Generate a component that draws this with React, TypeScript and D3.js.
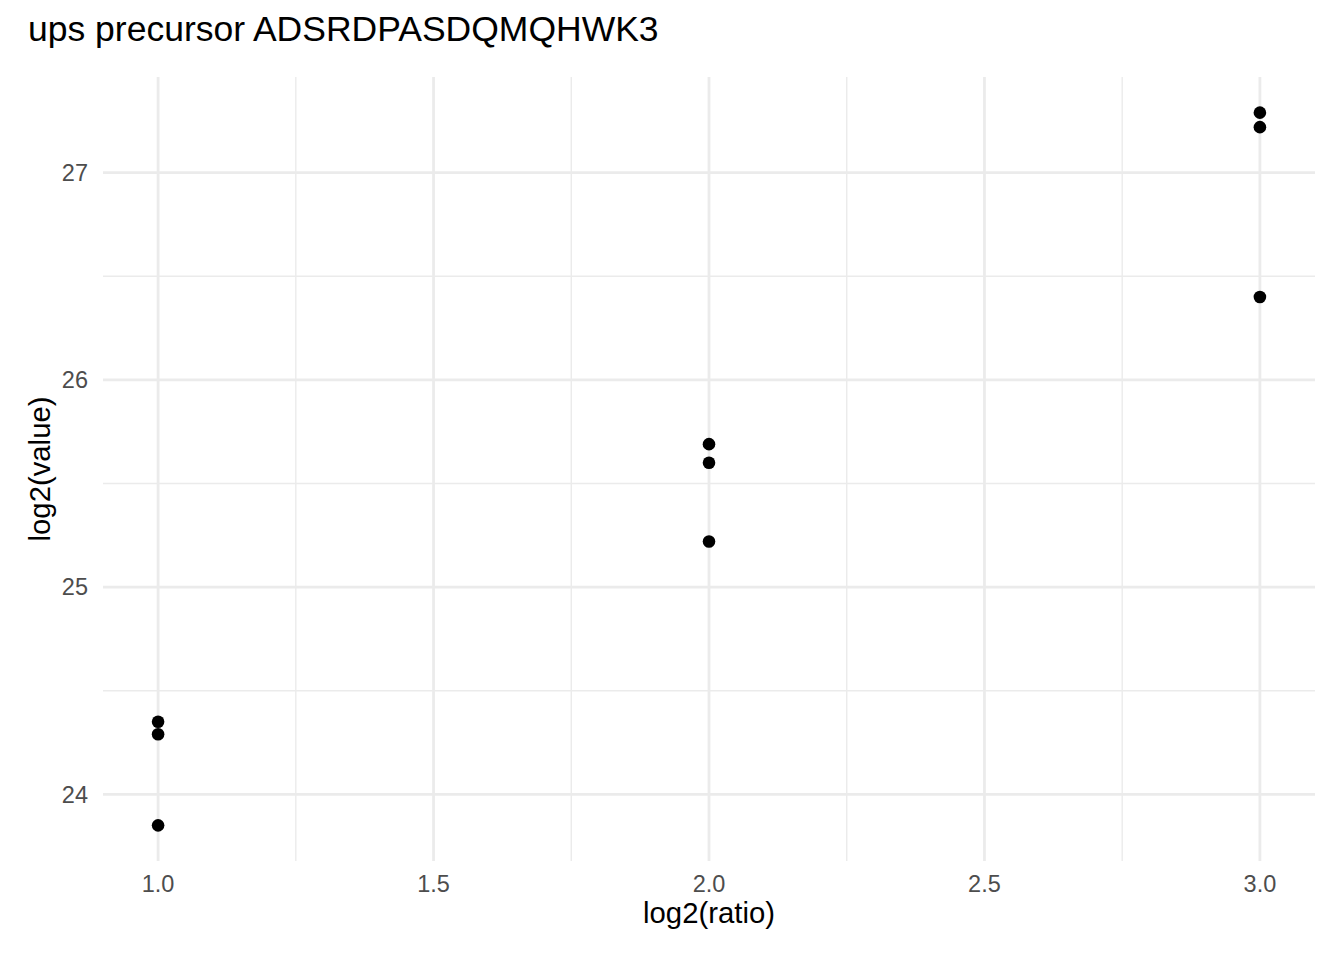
import * as d3 from "d3";

// log2(ratio) for each measurement
const ratios = [1, 1, 1, 2, 2, 2, 3, 3, 3];
// log2(value)
const values = [24.35, 24.29, 23.85, 25.69, 25.6, 25.22, 27.29, 27.22, 26.4];
const xTicks = [1.0, 1.5, 2.0, 2.5, 3.0];
const yTicks = [24, 25, 26, 27];
const title = "ups precursor ADSRDPASDQMQHWK3";

const width = 1344;
const height = 960;
const marginLeft = 103;
const marginRight = 29;
const marginTop = 77;
const marginBottom = 99;
const font = "'Liberation Sans', Arial, Helvetica, sans-serif";

export default function App() {
  // ggplot-style 5% expansion around the data range
  const [x0, x1] = d3.extent(ratios) as [number, number];
  const [y0, y1] = d3.extent(values) as [number, number];
  const xPad = (x1 - x0) * 0.05;
  const yPad = (y1 - y0) * 0.05;

  const x = d3.scaleLinear()
    .domain([x0 - xPad, x1 + xPad])
    .range([marginLeft, width - marginRight]);
  const y = d3.scaleLinear()
    .domain([y0 - yPad, y1 + yPad])
    .range([height - marginBottom, marginTop]);

  // minor gridlines halfway between majors
  const xMinor = xTicks.slice(1).map((t, i) => (t + xTicks[i]) / 2);
  const yMinor = [yTicks[0] - 0.5, ...yTicks.map((t) => t + 0.5)]
    .filter((v) => v > y.domain()[0] && v < y.domain()[1]);

  const [top, bottom] = [marginTop, height - marginBottom];
  const [left, right] = [marginLeft, width - marginRight];

  return (
    <svg width={width} height={height} style={{ display: "block", position: "absolute", left: 0, top: 0, background: "white" }}>
      {/* minor grid */}
      <g stroke="#ebebeb" strokeWidth={1.4}>
        {xMinor.map((t) => <line key={"xm" + t} x1={x(t)} x2={x(t)} y1={top} y2={bottom} />)}
        {yMinor.map((t) => <line key={"ym" + t} x1={left} x2={right} y1={y(t)} y2={y(t)} />)}
      </g>
      {/* major grid */}
      <g stroke="#ebebeb" strokeWidth={2.8}>
        {xTicks.map((t) => <line key={"x" + t} x1={x(t)} x2={x(t)} y1={top} y2={bottom} />)}
        {yTicks.map((t) => <line key={"y" + t} x1={left} x2={right} y1={y(t)} y2={y(t)} />)}
      </g>
      {/* tick labels */}
      <g fill="#4d4d4d" fontFamily={font} fontSize={23.5}>
        {xTicks.map((t) => (
          <text key={"xl" + t} x={x(t)} y={892} textAnchor="middle">{t.toFixed(1)}</text>
        ))}
        {yTicks.map((t) => (
          <text key={"yl" + t} x={88} y={y(t) + 8.4} textAnchor="end">{t}</text>
        ))}
      </g>
      {/* points */}
      <g fill="black">
        {ratios.map((r, i) => (
          <circle key={i} cx={x(r)} cy={y(values[i])} r={6.3} />
        ))}
      </g>
      {/* titles */}
      <text x={28} y={41} fontFamily={font} fontSize={35.5} fill="black">{title}</text>
      <text x={(left + right) / 2} y={923} fontFamily={font} fontSize={29.3} fill="black" textAnchor="middle">log2(ratio)</text>
      <text transform={`translate(50,${(top + bottom) / 2}) rotate(-90)`} fontFamily={font} fontSize={29.3} fill="black" textAnchor="middle">log2(value)</text>
    </svg>
  );
}
